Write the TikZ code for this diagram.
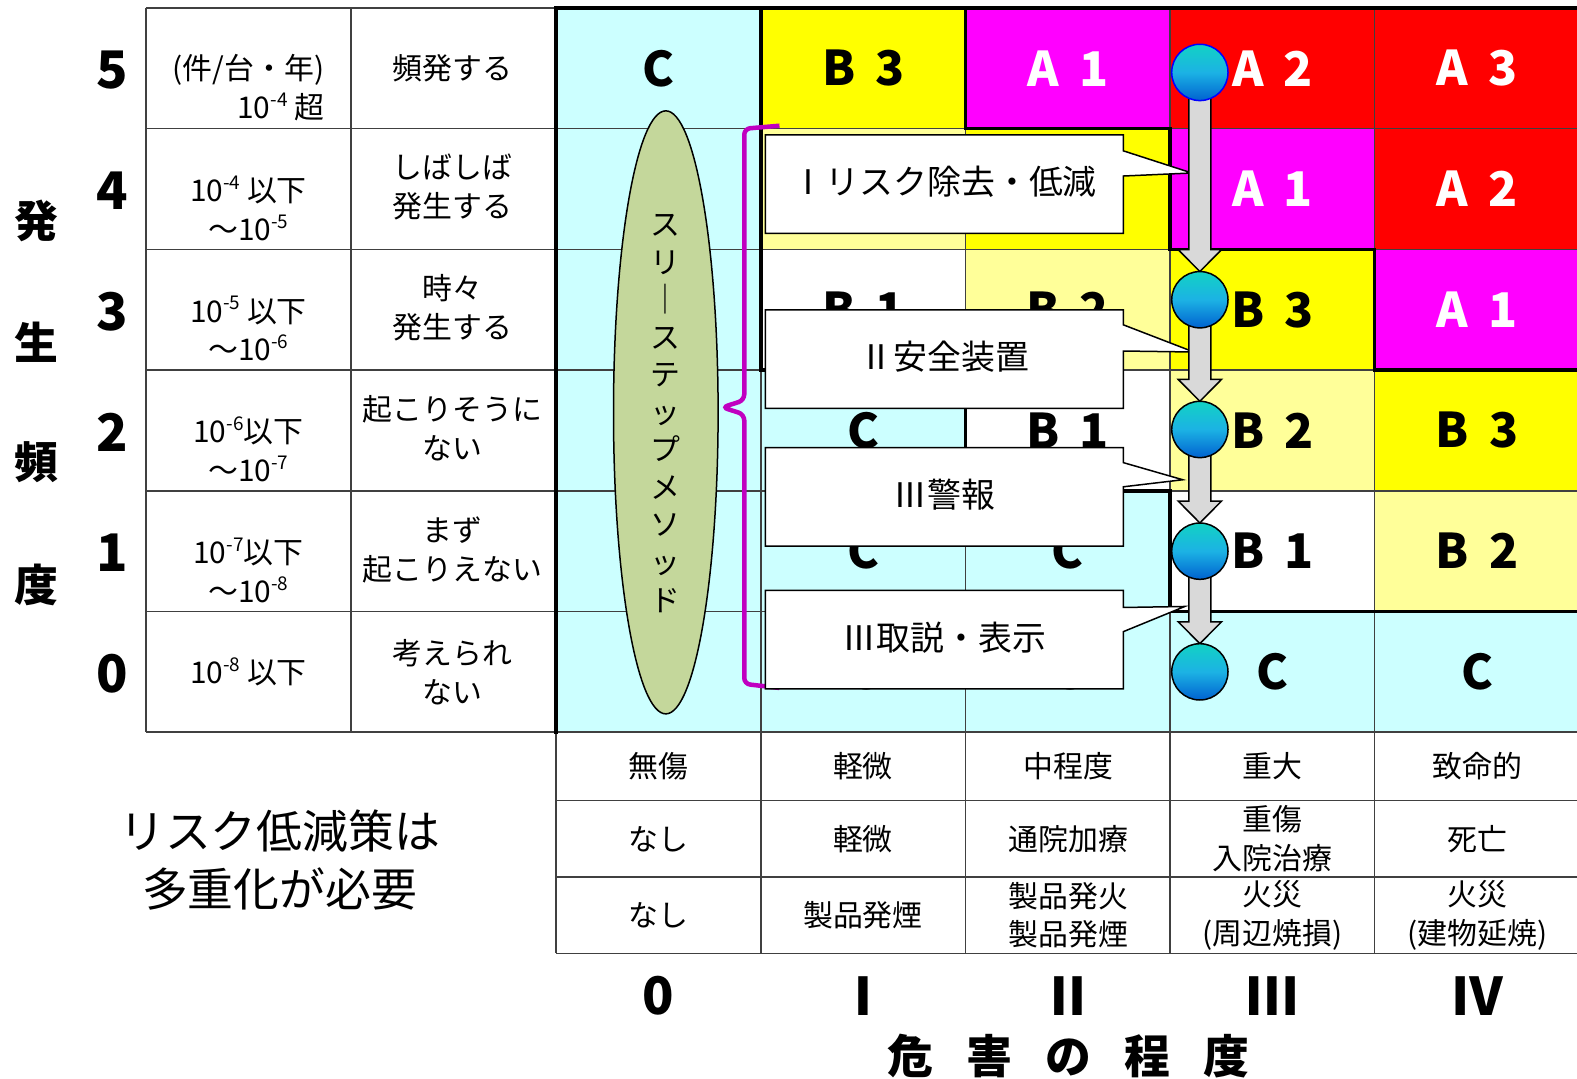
\documentclass[tikz,border=0pt]{standalone}
\usepackage{fontspec}
\setmainfont{Noto Sans CJK JP}
\usetikzlibrary{shapes.geometric,calc}
\definecolor{cyanc}{HTML}{CCFFFF}
\definecolor{yel}{HTML}{FFFF00}
\definecolor{ltyel}{HTML}{FFFF99}
\definecolor{mag}{HTML}{FF00FF}
\definecolor{redc}{HTML}{FF0000}
\definecolor{olive}{HTML}{C4D79B}
\definecolor{arrowgray}{HTML}{D9D9D9}
\definecolor{bracec}{HTML}{C000C0}
\definecolor{dottop}{HTML}{12D2C4}
\definecolor{dotmid}{HTML}{1CB2E4}
\definecolor{dotbot}{HTML}{0062D0}
\definecolor{gridc}{HTML}{404040}
\tikzstyle{letter}=[font=\bfseries\fontsize{48}{48}\selectfont]
\tikzstyle{wletter}=[letter, text=white]
\tikzstyle{tablbl}=[align=center, font=\fontsize{30}{39}\selectfont]
\tikzstyle{biglbl}=[font=\bfseries\fontsize{52}{52}\selectfont]
\tikzstyle{gridline}=[draw=gridc, line width=1.5bp]
\tikzstyle{thickline}=[draw=black, line width=3.5bp, line cap=rect]
\tikzstyle{calloutbox}=[draw, fill=white, line width=1.5bp, line join=miter]
\tikzstyle{callouttext}=[font=\fontsize{34}{34}\selectfont]
\tikzstyle{dot}=[circle, draw, line width=1.5bp, inner sep=0pt, minimum size=56.3bp,
    top color=dottop, bottom color=dotbot, middle color=dotmid]
\tikzstyle{blkarrow}=[draw, fill=arrowgray, line width=1.5bp, line join=miter]
\tikzstyle{stepbrace}=[draw=bracec, line width=4.5bp, rounded corners=6bp]
\newcommand{\supx}[1]{\raisebox{0.75ex}{\fontsize{19}{19}\selectfont #1}}
\newcommand{\gap}{\hspace{0.42em}}
\newcommand{\rfill}[3]{\fill[#3] (553+203.4*#1,608-120*#2) rectangle ++(210,120);}
\newcommand{\rcell}[5]{\rfill{#1}{#2}{#3}
  \node[#4] (c#1#2) at (655+203.4*#1,668-120*#2) {#5};}
\newcommand{\callout}[6]{%
  \draw[calloutbox] (761,#2) -- (1117,#2) -- (1117,#3) -- #4 -- (1117,#5)
    -- (1117,#2+98) -- (761,#2+98) -- cycle;
  \node[callouttext] (#1) at (939,#2+47) {#6};}
\newcommand{\blockarrow}[2]{%
  \draw[blkarrow] let \p1=(#1), \p2=(#2) in
    (\x1-11bp,\y1-20bp) -- (\x1-11bp,\y2+50bp) -- (\x1-21.6bp,\y2+50bp)
    -- (\x1,\y2+28.2bp) -- (\x1+21.6bp,\y2+50bp) -- (\x1+11bp,\y2+50bp)
    -- (\x1+11bp,\y1-20bp) -- cycle;}
\newcommand{\wch}[1]{\makebox[79bp]{#1}}

\begin{document}
\begin{tikzpicture}[x=1.0057bp, y=-1.0057bp]
\useasboundingbox (0,0) rectangle (1568,1072);
% risk matrix cells
\rcell{0}{5}{cyanc}{letter}{C}
\rcell{1}{5}{yel}{letter}{B\gap 3}
\rcell{2}{5}{mag}{wletter}{A\gap 1}
\rcell{3}{5}{redc}{wletter}{A\gap 2}
\rcell{4}{5}{redc}{wletter}{A\gap 3}
\rfill{0}{4}{cyanc}
\rfill{1}{4}{ltyel}
\rfill{2}{4}{yel}
\rcell{3}{4}{mag}{wletter}{A\gap 1}
\rcell{4}{4}{redc}{wletter}{A\gap 2}
\rfill{0}{3}{cyanc}
\rcell{1}{3}{white}{letter}{B\gap 1}
\rcell{2}{3}{ltyel}{letter}{B\gap 2}
\rcell{3}{3}{yel}{letter}{B\gap 3}
\rcell{4}{3}{mag}{wletter}{A\gap 1}
\rfill{0}{2}{cyanc}
\rcell{1}{2}{cyanc}{letter}{C}
\rcell{2}{2}{white}{letter}{B\gap 1}
\rcell{3}{2}{ltyel}{letter}{B\gap 2}
\rcell{4}{2}{yel}{letter}{B\gap 3}
\rfill{0}{1}{cyanc}
\rcell{1}{1}{cyanc}{letter}{C}
\rcell{2}{1}{cyanc}{letter}{C}
\rcell{3}{1}{white}{letter}{B\gap 1}
\rcell{4}{1}{ltyel}{letter}{B\gap 2}
\rfill{0}{0}{cyanc}
\rcell{1}{0}{cyanc}{letter}{C}
\rcell{2}{0}{cyanc}{letter}{C}
\rcell{3}{0}{cyanc}{letter}{C}
\rcell{4}{0}{cyanc}{letter}{C}

% grid
\path[gridline]
(145,8) -- (553,8)
(145,128) -- (1577,128) (145,248) -- (1577,248) (145,368) -- (1577,368)
(145,488) -- (1577,488) (145,608) -- (1577,608) (145,728) -- (1577,728)
(553,796) -- (1577,796) (553,872) -- (1577,872) (553,948) -- (1577,948)
(145,8) -- (145,728) (349,8) -- (349,728) (553,728) -- (553,948)
(756.4,8) -- (756.4,948) (959.8,8) -- (959.8,948)
(1163.2,8) -- (1163.2,948) (1366.6,8) -- (1366.6,948)
;
\path[thickline]
(553,728) -- (553,8) -- (1577,8)
(959.8,8) -- (959.8,128) -- (1163.2,128) -- (1163.2,248) -- (1366.6,248)
  -- (1366.6,368) -- (1577,368)
(756.4,8) -- (756.4,368) -- (959.8,368) -- (959.8,488) -- (1163.2,488)
  -- (1163.2,608) -- (1577,608)
;

% frequency table
\node[biglbl] (n5) at (112,70) {5};
\node[biglbl] (n4) at (112,190) {4};
\node[biglbl] (n3) at (112,310) {3};
\node[biglbl] (n2) at (112,430) {2};
\node[biglbl] (n1) at (112,550) {1};
\node[biglbl] (n0) at (112,670) {0};
\node[biglbl, font=\bfseries\fontsize{44}{44}\selectfont] (v1) at (36,220) {発};
\node[biglbl, font=\bfseries\fontsize{44}{44}\selectfont] (v2) at (36,340) {生};
\node[biglbl, font=\bfseries\fontsize{44}{44}\selectfont] (v3) at (36,460) {頻};
\node[biglbl, font=\bfseries\fontsize{44}{44}\selectfont] (v4) at (36,582) {度};
\node[tablbl, align=right] (f5) at (247,87) {(件/台・年)\\10\supx{-4} 超};
\node[tablbl] (f4) at (247,207) {10\supx{-4} 以下\\～10\supx{-5}};
\node[tablbl] (f3) at (247,327) {10\supx{-5} 以下\\～10\supx{-6}};
\node[tablbl] (f2) at (247,447) {10\supx{-6}以下\\～10\supx{-7}};
\node[tablbl] (f1) at (247,567) {10\supx{-7}以下\\～10\supx{-8}};
\node[tablbl] (f0) at (247,668) {10\supx{-8} 以下};
\node[tablbl] (g5) at (450,68) {頻発する};
\node[tablbl] (g4) at (450,186) {しばしば\\発生する};
\node[tablbl] (g3) at (450,306) {時々\\発生する};
\node[tablbl] (g2) at (450,426) {起こりそうに\\ない};
\node[tablbl] (g1) at (450,547) {まず\\起こりえない};
\node[tablbl] (g0) at (450,668) {考えられ\\ない};

% severity table
\node[tablbl] (h0) at (655,762) {無傷};
\node[tablbl] (h1) at (858,762) {軽微};
\node[tablbl] (h2) at (1062,762) {中程度};
\node[tablbl] (h3) at (1265,762) {重大};
\node[tablbl] (h4) at (1469,762) {致命的};
\node[tablbl] (i0) at (655,834) {なし};
\node[tablbl] (i1) at (858,834) {軽微};
\node[tablbl] (i2) at (1062,834) {通院加療};
\node[tablbl] (i3) at (1265,834) {重傷\\入院治療};
\node[tablbl] (i4) at (1469,834) {死亡};
\node[tablbl] (j0) at (655,910) {なし};
\node[tablbl] (j1) at (858,910) {製品発煙};
\node[tablbl] (j2) at (1062,910) {製品発火\\製品発煙};
\node[tablbl] (j3) at (1265,910) {火災\\(周辺焼損)};
\node[tablbl] (j4) at (1469,910) {火災\\(建物延焼)};
\node[biglbl] (k0) at (655,990) {0};
\node[biglbl] (k1) at (858,990) {Ⅰ};
\node[biglbl] (k2) at (1062,990) {Ⅱ};
\node[biglbl] (k3) at (1265,990) {Ⅲ};
\node[biglbl] (k4) at (1469,990) {Ⅳ};
\node[biglbl, font=\bfseries\fontsize{46}{46}\selectfont, inner sep=0pt] (sev) at (1062,1050)
  {\wch{危}\wch{害}\wch{の}\wch{程}\wch{度}};
\node[align=center, font=\fontsize{46}{58}\selectfont] (note) at (278,855)
  {リスク低減策は\\多重化が必要};

% three step method
\node[ellipse, draw, line width=1.5bp, fill=olive, minimum width=104.6bp,
  minimum height=603bp] (sm) at (662,410) {};
\node[align=center, font=\fontsize{30}{37.7}\selectfont] (smtext) at (662,411)
  {ス\\リ\\｜\\ス\\テ\\ッ\\プ\\メ\\ソ\\ッ\\ド};
\path[stepbrace] (775,125) -- (740,128) -- (740,398) -- (718,405) -- (740,412)
  -- (740,680) -- (775,684);

% measures
\callout{m1}{134}{150}{(1185,172)}{175}{Ⅰリスク除去・低減}
\callout{m2}{308}{323}{(1187,350)}{349}{Ⅱ安全装置}
\callout{m3}{445}{460}{(1176,477)}{484}{Ⅲ警報}
\callout{m4}{587}{604}{(1178,603)}{628}{Ⅲ取説・表示}

% risk path
\coordinate (p5) at (1193,72);
\coordinate (p3) at (1193,298);
\coordinate (p2) at (1193,427);
\coordinate (p1) at (1193,548);
\coordinate (p0) at (1193,668);
\blockarrow{p5}{p3}
\blockarrow{p3}{p2}
\blockarrow{p2}{p1}
\blockarrow{p1}{p0}
\node[dot, draw=blue] (d5) at (p5) {};
\node[dot] (d3) at (p3) {};
\node[dot] (d2) at (p2) {};
\node[dot] (d1) at (p1) {};
\node[dot] (d0) at (p0) {};
\end{tikzpicture}
\end{document}
